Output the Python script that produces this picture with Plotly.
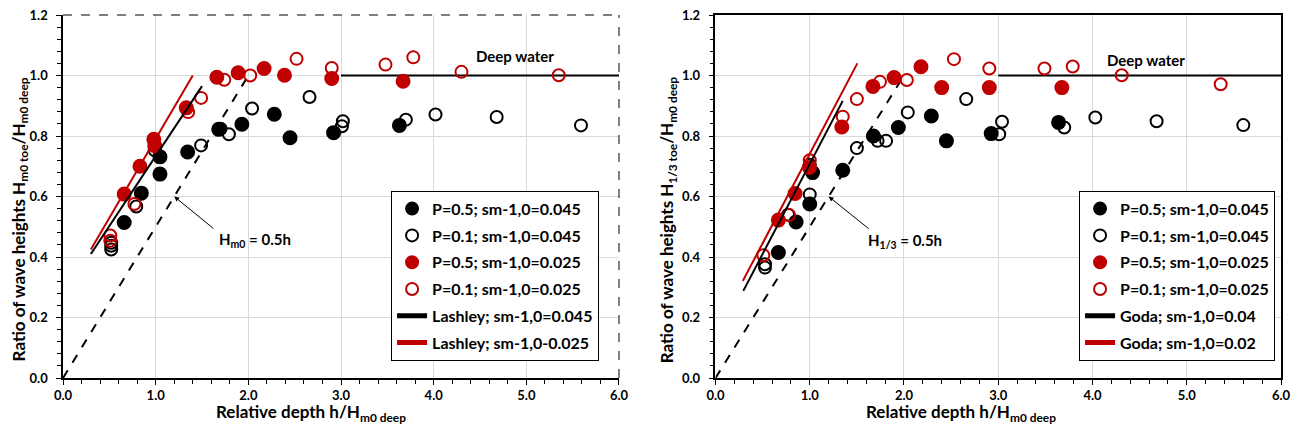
import plotly.graph_objects as go
from plotly.subplots import make_subplots

RED = "#C00000"
BLACK = "#000000"
FONT = "Lato"

# ---- left panel: Hm0 toe / Hm0 deep ----
l_p05_045_x = [0.66, 0.845, 1.046, 1.046, 1.345, 1.68, 1.93, 2.28, 2.45, 2.92, 3.63]
l_p05_045_y = [0.514, 0.611, 0.674, 0.731, 0.747, 0.822, 0.839, 0.872, 0.794, 0.811, 0.835]

l_p01_045_x = [0.52, 0.52, 0.52, 0.79, 0.99, 1.49, 1.70, 1.79, 2.04, 2.66, 3.02, 3.01, 3.70, 4.02, 4.68, 5.59]
l_p01_045_y = [0.425, 0.437, 0.447, 0.567, 0.753, 0.769, 0.824, 0.806, 0.891, 0.929, 0.849, 0.832, 0.854, 0.871, 0.863, 0.835]

l_p05_025_x = [0.66, 0.83, 0.98, 0.99, 1.33, 1.66, 1.89, 2.17, 2.39, 2.90, 3.67]
l_p05_025_y = [0.608, 0.700, 0.789, 0.768, 0.893, 0.994, 1.009, 1.023, 1.001, 0.990, 0.981]

l_p01_025_x = [0.51, 0.51, 0.77, 1.35, 1.49, 1.74, 2.02, 2.52, 2.90, 3.48, 3.78, 4.30, 5.35]
l_p01_025_y = [0.471, 0.454, 0.575, 0.879, 0.926, 0.986, 1.000, 1.055, 1.025, 1.036, 1.060, 1.012, 1.001]

lashley_045_x = [0.30, 1.50]
lashley_045_y = [0.41, 0.965]
lashley_025_x = [0.30, 1.40]
lashley_025_y = [0.425, 1.00]

# ---- right panel: H1/3 toe / Hm0 deep ----
r_p05_045_x = [0.667, 0.855, 1.00, 1.03, 1.35, 1.675, 1.94, 2.29, 2.45, 2.925, 3.64]
r_p05_045_y = [0.415, 0.516, 0.575, 0.679, 0.687, 0.800, 0.828, 0.866, 0.784, 0.808, 0.845]

r_p01_045_x = [0.525, 0.525, 0.77, 1.00, 1.00, 1.50, 1.72, 1.81, 2.04, 2.66, 3.04, 3.01, 3.70, 4.03, 4.68, 5.60]
r_p01_045_y = [0.376, 0.365, 0.540, 0.607, 0.705, 0.760, 0.784, 0.784, 0.878, 0.922, 0.847, 0.806, 0.828, 0.861, 0.849, 0.836]

r_p05_025_x = [0.667, 0.844, 0.996, 1.34, 1.67, 1.895, 2.18, 2.40, 2.905, 3.675]
r_p05_025_y = [0.522, 0.610, 0.696, 0.830, 0.964, 0.993, 1.029, 0.960, 0.960, 0.960]

r_p01_025_x = [0.507, 0.78, 1.00, 1.35, 1.50, 1.745, 2.03, 2.53, 2.905, 3.49, 3.79, 4.31, 5.36]
r_p01_025_y = [0.406, 0.539, 0.720, 0.864, 0.922, 0.979, 0.985, 1.054, 1.023, 1.023, 1.030, 1.001, 0.971]

goda_04_x = [0.295, 1.35]
goda_04_y = [0.288, 0.916]
goda_02_x = [0.29, 1.505]
goda_02_y = [0.321, 1.04]

# shared reference lines
breaking_x = [0.0, 1.98]
breaking_y = [0.0, 0.99]
deep_x = [3.0, 6.0]
deep_y = [1.0, 1.0]

x_ticks = [0, 1, 2, 3, 4, 5, 6]
y_ticks = [0.0, 0.2, 0.4, 0.6, 0.8, 1.0, 1.2]

fig = make_subplots(rows=1, cols=2, horizontal_spacing=0.07)


def marker_trace(x, y, name, color, filled, legend):
    return go.Scatter(
        x=x, y=y, mode="markers", name=name, legend=legend, legendgroup=legend + name,
        marker=dict(
            symbol="circle" if filled else "circle-open",
            size=13 if filled else 12,
            color=color,
            line=dict(width=2, color=color),
        ),
    )


def line_trace(x, y, name, color, legend, dash="solid", show=True):
    return go.Scatter(
        x=x, y=y, mode="lines", name=name, legend=legend, legendgroup=legend + name,
        showlegend=show, line=dict(color=color, width=2, dash=dash),
    )


panels = [
    (1, "legend", l_p05_045_x, l_p05_045_y, l_p01_045_x, l_p01_045_y,
     l_p05_025_x, l_p05_025_y, l_p01_025_x, l_p01_025_y,
     lashley_045_x, lashley_045_y, "Lashley; sm-1,0=0.045",
     lashley_025_x, lashley_025_y, "Lashley; sm-1,0-0.025"),
    (2, "legend2", r_p05_045_x, r_p05_045_y, r_p01_045_x, r_p01_045_y,
     r_p05_025_x, r_p05_025_y, r_p01_025_x, r_p01_025_y,
     goda_04_x, goda_04_y, "Goda; sm-1,0=0.04",
     goda_02_x, goda_02_y, "Goda; sm-1,0=0.02"),
]

for (col, leg, ax1, ay1, ax2, ay2, ax3, ay3, ax4, ay4,
     lx1, ly1, ln1, lx2, ly2, ln2) in panels:
    fig.add_trace(line_trace(breaking_x, breaking_y, "breaking", BLACK, leg, "dash", False), 1, col)
    fig.add_trace(line_trace(deep_x, deep_y, "deep", BLACK, leg, show=False), 1, col)
    fig.add_trace(marker_trace(ax1, ay1, "P=0.5; sm-1,0=0.045", BLACK, True, leg), 1, col)
    fig.add_trace(marker_trace(ax2, ay2, "P=0.1; sm-1,0=0.045", BLACK, False, leg), 1, col)
    fig.add_trace(marker_trace(ax3, ay3, "P=0.5; sm-1,0=0.025", RED, True, leg), 1, col)
    fig.add_trace(marker_trace(ax4, ay4, "P=0.1; sm-1,0=0.025", RED, False, leg), 1, col)
    fig.add_trace(line_trace(lx1, ly1, ln1, BLACK, leg), 1, col)
    fig.add_trace(line_trace(lx2, ly2, ln2, RED, leg), 1, col)

axis_font = dict(family=FONT, size=13, color="black", weight="bold")
title_font = dict(family=FONT, size=17, color="black", weight="bold")

for col in (1, 2):
    fig.update_xaxes(
        row=1, col=col, range=[0, 6], tickvals=x_ticks, tickformat=".1f",
        showline=True, linecolor="black", linewidth=1.5, mirror=(col == 2),
        ticks="outside", ticklen=5, tickcolor="black", automargin=False,
        ticklabeloverflow="allow",
        minor=dict(dtick=0.2, ticks="outside", ticklen=4, tickcolor="black", showgrid=False),
        showgrid=True, gridcolor="#D9D9D9", gridwidth=1, zeroline=False,
        tickfont=axis_font,
    )
    fig.update_yaxes(
        row=1, col=col, range=[0, 1.2], tickvals=y_ticks, tickformat=".1f",
        showline=True, linecolor="black", linewidth=1.5, mirror=(col == 2),
        ticks="outside", ticklen=5, tickcolor="black", automargin=False,
        ticklabelstandoff=6, ticklabeloverflow="allow",
        minor=dict(dtick=0.04, ticks="outside", ticklen=4, tickcolor="black", showgrid=False),
        showgrid=True, gridcolor="#D9D9D9", gridwidth=1, zeroline=False,
        tickfont=axis_font,
    )

# figure is placed 8px in from the page corner, so the sizes below account for that
fig.update_xaxes(domain=[0.0426, 0.4729], row=1, col=1)
fig.update_xaxes(domain=[0.5476, 0.9853], row=1, col=2)

# axis titles (placed off-centre like the original)
for x, label in [(0.0093, "Ratio of wave heights H<sub>m0 toe</sub>/H<sub>m0 deep</sub>"),
                 (0.5115, "Ratio of wave heights H<sub>1/3 toe</sub>/H<sub>m0 deep</sub>")]:
    fig.add_annotation(xref="paper", yref="paper", x=x, y=0.437, text=label, textangle=-90,
                       showarrow=False, font=title_font, xanchor="center", yanchor="middle")
for x in (0.2345, 0.7376):
    fig.add_annotation(xref="paper", yref="paper", x=x, y=-0.096, text="Relative depth h/H<sub>m0 deep</sub>",
                       showarrow=False, font=title_font, xanchor="center", yanchor="middle")

# dashed top/right frame of the left panel
fig.add_shape(type="line", xref="x domain", yref="y domain", x0=0, x1=1, y0=1, y1=1,
              line=dict(color="black", width=1, dash="dash"))
fig.add_shape(type="line", xref="x domain", yref="y domain", x0=1, x1=1, y0=0, y1=1,
              line=dict(color="black", width=1, dash="dash"))

ann_font = dict(family=FONT, size=15, color="black", weight="bold")
for xr, yr, label, tx, ty, dx, dy in [
    ("x", "y", "H<sub>m0</sub> = 0.5h", 2.07, 0.455, 4.88, 1.064),
    ("x2", "y2", "H<sub>1/3</sub> = 0.5h", 2.01, 0.452, 4.57, 1.05),
]:
    fig.add_annotation(xref=xr, yref=yr, x=1.20, y=0.60, ax=1.64, ay=0.49,
                       axref=xr, ayref=yr, text="", showarrow=True,
                       arrowhead=2, arrowsize=1, arrowwidth=1, arrowcolor="black")
    fig.add_annotation(xref=xr, yref=yr, x=tx, y=ty, text=label, showarrow=False, font=ann_font)
    fig.add_annotation(xref=xr, yref=yr, x=dx, y=dy, text="Deep water", showarrow=False, font=ann_font)

legend_style = dict(
    bgcolor="white", bordercolor="black", borderwidth=1,
    font=dict(family=FONT, size=16, color="black", weight="bold"),
    traceorder="grouped", tracegroupgap=3, itemsizing="constant",
    xanchor="left", yanchor="top", itemwidth=30,
)
fig.update_layout(
    legend=dict(x=0.2965, y=0.516, **legend_style),
    legend2=dict(x=0.829, y=0.516, **legend_style),
    width=1292, height=429,
    margin=dict(l=0, r=0, t=7, b=59),
    plot_bgcolor="white", paper_bgcolor="white",
    font=dict(family=FONT, color="black"),
)

fig.write_html("out.html")
